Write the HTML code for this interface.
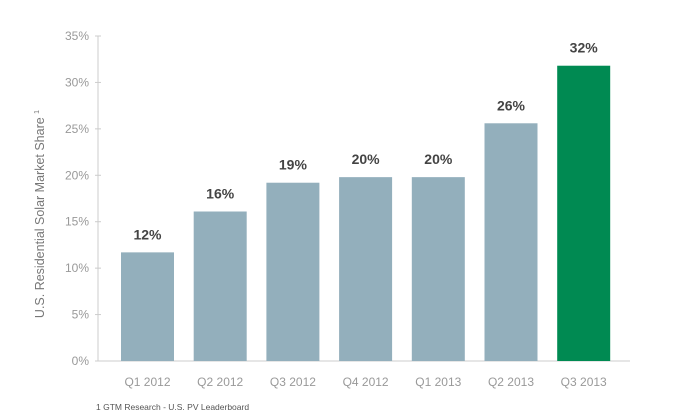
<!DOCTYPE html>
<html><head><meta charset="utf-8"><style>
body{margin:0;background:#fff;}
svg{display:block;font-family:"Liberation Sans",sans-serif;}
</style></head><body>
<svg id="chart" width="685" height="418" viewBox="0 0 685 418" xmlns="http://www.w3.org/2000/svg">
<g id="axes"></g><g id="bars"></g>
<text transform="translate(44,214) rotate(-90)" text-anchor="middle" font-size="12.5" fill="#777">U.S. Residential  Solar Market Share <tspan font-size="7" dy="-5">1</tspan></text>
<text x="96" y="410" font-size="8.5" fill="#555">1 GTM Research - U.S. PV Leaderboard</text>
</svg>
<script>
const categories=["Q1 2012","Q2 2012","Q3 2012","Q4 2012","Q1 2013","Q2 2013","Q3 2013"];
const values=[11.7,16.1,19.2,19.8,19.8,25.6,31.8];
const valueLabels=["12%","16%","19%","20%","20%","26%","32%"];
const yTicks=[0,5,10,15,20,25,30,35];
const NS="http://www.w3.org/2000/svg";
const y0=361,yTop=36,yMax=35;
function y(v){return y0-(v/yMax)*(y0-yTop);}
function x(i){return 121+i*72.7;}
const bw=53;
function mk(t,a,p){const e=document.createElementNS(NS,t);for(const k in a)e.setAttribute(k,a[k]);p.appendChild(e);return e;}
const ax=document.getElementById('axes'),bg=document.getElementById('bars');
const yl=mk('line',{x1:98,x2:98,y1:yTop,y2:y0,stroke:'#ccc','stroke-width':1},ax);


const xl=mk('line',{x1:95,x2:630,y1:y0,y2:y0,stroke:'#ccc','stroke-width':1},ax);


yTicks.forEach(t=>{
 const tk=mk('line',{x1:95,x2:101,y1:y(t),y2:y(t),stroke:'#ccc'},ax);
 
 
 const tl=mk('text',{x:89,y:y(t)+4,'text-anchor':'end','font-size':12,fill:'#999'},ax);
 tl.textContent=t+'%';
 
 
});
categories.forEach((c,i)=>{
 const last=i===categories.length-1;
 const r=mk('rect',{x:x(i),y:y(values[i]),width:bw,height:y0-y(values[i]),fill:last?'#008a52':'#93afbc'},bg);
 
 
 const vl=mk('text',{x:x(i)+bw/2,y:y(values[i])-13,'text-anchor':'middle','font-size':14,'font-weight':'bold',fill:'#444'},bg);
 vl.textContent=valueLabels[i];
 
 
 const cl=mk('text',{x:x(i)+bw/2,y:386,'text-anchor':'middle','font-size':12,fill:'#999'},bg);
 cl.textContent=c;
 
 
});
</script>
</body></html>
